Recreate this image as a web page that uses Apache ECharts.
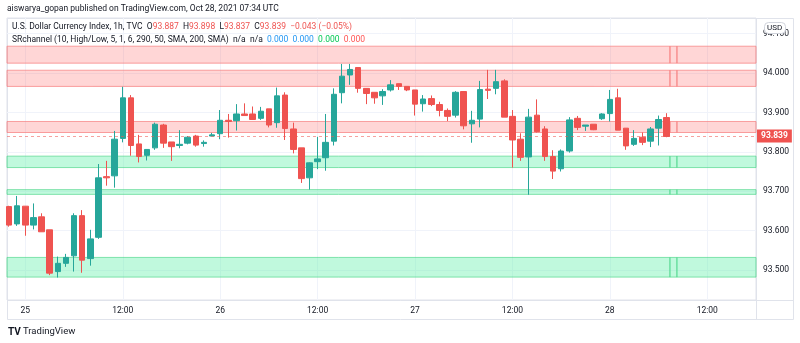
<!DOCTYPE html>
<html>
<head>
<meta charset="utf-8">
<script src="https://cdn.jsdelivr.net/npm/echarts@6/dist/echarts.min.js"></script>
<style>
html,body{margin:0;padding:0;background:#fff;}
#chart{width:800px;height:343px;}
</style>
</head>
<body>
<div id="chart"></div>
<script>
// Hourly candles, index 0 = Oct 24 22:00 UTC
const opens  = [93.661,93.617,93.662,93.614,93.635,93.602,93.496,93.517,93.536,93.638,93.529,93.583,93.737,93.739,93.834,93.937,93.820,93.791,93.810,93.868,93.825,93.816,93.822,93.840,93.821,93.840,93.846,93.880,93.879,93.896,93.896,93.885,93.909,93.874,93.944,93.858,93.810,93.734,93.775,93.785,93.827,93.950,93.995,94.014,93.961,93.951,93.942,93.957,93.973,93.966,93.957,93.922,93.935,93.920,93.905,93.893,93.953,93.871,93.883,93.959,93.961,93.980,93.890,93.832,93.787,93.893,93.858,93.788,93.757,93.802,93.885,93.865,93.870,93.884,93.897,93.937,93.860,93.819,93.837,93.827,93.860,93.887];
const closes = [93.614,93.663,93.614,93.633,93.597,93.492,93.517,93.532,93.638,93.525,93.579,93.734,93.734,93.832,93.937,93.816,93.788,93.806,93.870,93.822,93.813,93.819,93.837,93.817,93.824,93.843,93.880,93.877,93.896,93.892,93.882,93.903,93.868,93.942,93.859,93.806,93.732,93.772,93.782,93.824,93.946,93.992,94.009,93.961,93.948,93.937,93.953,93.970,93.966,93.957,93.921,93.934,93.920,93.905,93.890,93.951,93.866,93.880,93.958,93.956,93.978,93.888,93.830,93.786,93.888,93.851,93.788,93.751,93.802,93.881,93.862,93.868,93.856,93.896,93.933,93.855,93.815,93.834,93.824,93.858,93.882,93.839];
const lows   = [93.610,93.612,93.587,93.603,93.597,93.487,93.481,93.508,93.496,93.493,93.511,93.579,93.714,93.709,93.824,93.790,93.773,93.778,93.805,93.810,93.777,93.809,93.819,93.813,93.813,93.840,93.832,93.836,93.854,93.892,93.882,93.881,93.862,93.861,93.830,93.796,93.721,93.704,93.756,93.752,93.816,93.923,93.970,93.950,93.921,93.922,93.919,93.953,93.957,93.954,93.892,93.902,93.916,93.890,93.878,93.887,93.857,93.823,93.862,93.934,93.946,93.888,93.760,93.777,93.691,93.849,93.777,93.731,93.750,93.798,93.855,93.853,93.855,93.881,93.877,93.855,93.805,93.815,93.817,93.812,93.816,93.837];
const highs  = [93.663,93.688,93.662,93.669,93.644,93.602,93.534,93.541,93.644,93.652,93.602,93.769,93.777,93.853,93.965,93.944,93.843,93.806,93.874,93.871,93.825,93.855,93.840,93.843,93.829,93.848,93.906,93.896,93.921,93.923,93.915,93.914,93.909,93.963,93.951,93.874,93.810,93.773,93.838,93.896,93.961,94.023,94.023,94.014,93.961,93.951,93.959,93.982,93.973,93.966,93.957,93.944,93.943,93.927,93.910,93.954,93.954,93.904,93.980,94.008,94.008,93.984,93.906,93.847,93.909,93.933,93.865,93.804,93.806,93.888,93.891,93.868,93.870,93.898,93.957,93.960,93.860,93.855,93.849,93.863,93.892,93.898];

// Support / resistance channels [low, high]
const resistanceBands = [[94.025,94.068],[93.966,94.007],[93.849,93.877]];
const supportBands    = [[93.760,93.789],[93.692,93.704],[93.482,93.532]];

// Axis ticks
const xTickPositions = [2,14,26,38,50,62,74,86];
const xTickLabels    = ['25','12:00','26','12:00','27','12:00','28','12:00'];
const yTickValues    = [93.5,93.6,93.7,93.8,93.9,94.0,94.1];

const lastClose = closes[closes.length-1];

const FONT = 'Roboto';
const DARK = '#131722';
const RED = '#ef5350';
const GREEN = '#26a69a';

const candleData = opens.map((o,i)=>[i, o, closes[i], lows[i], highs[i]]);

const xMin = -0.26, xMax = 92;
const splitA = 81.4, splitB = 82.26;

function bandPieces(bands, fill, border){
  const out = [];
  bands.forEach(b=>{
    [[xMin,splitA],[splitA,splitB],[splitB,xMax]].forEach(s=>{
      out.push([
        {xAxis:s[0], yAxis:b[0], itemStyle:{color:fill, borderColor:border, borderWidth:1}},
        {xAxis:s[1], yAxis:b[1]}
      ]);
    });
  });
  return out;
}

const chart = echarts.init(document.getElementById('chart'), null, {renderer:'canvas'});
chart.setOption({
  animation:false,
  backgroundColor:'#ffffff',
  textStyle:{fontFamily:FONT},
  grid:{left:7, right:44, top:18, bottom:43, show:true, borderColor:'#e0e3eb', borderWidth:1},
  xAxis:{
    type:'value', min:xMin, max:xMax,
    axisLine:{show:false}, axisTick:{show:false, customValues:xTickPositions},
    axisLabel:{customValues:xTickPositions, margin:6, fontSize:8.5, color:DARK, fontFamily:FONT,
      formatter:(v)=>{const k=xTickPositions.indexOf(Math.round(v)); return k>=0?xTickLabels[k]:'';}},
    splitLine:{show:true, lineStyle:{color:'#f0f3fa', width:1}}
  },
  yAxis:{
    type:'value', position:'right', min:93.4239, max:94.1396, scale:true,
    axisLine:{show:false}, axisTick:{show:false, customValues:yTickValues},
    axisLabel:{customValues:yTickValues, margin:7, fontSize:8.5, color:DARK, fontFamily:FONT,
      formatter:(v)=>v.toFixed(3)},
    splitLine:{show:true, lineStyle:{color:'#f0f3fa', width:1}}
  },
  series:[
    {
      type:'line', data:[], z:1, silent:true,
      markArea:{silent:true, data: bandPieces(resistanceBands,'rgba(255,82,82,0.24)','rgba(247,130,130,0.75)')
        .concat(bandPieces(supportBands,'rgba(105,240,174,0.42)','rgba(80,215,140,0.7)'))}
    },
    {
      type:'candlestick', z:3,
      data:candleData,
      encode:{x:0, y:[1,2,3,4]},
      barWidth:6,
      itemStyle:{color:GREEN, color0:RED, borderColor:GREEN, borderColor0:RED, borderWidth:1},
      markLine:{
        silent:true, symbol:['none','none'],
        lineStyle:{color:'rgba(239,83,80,0.55)', type:[3,3], width:1},
        label:{position:'end', distance:1, formatter:()=>lastClose.toFixed(3), backgroundColor:RED,
          color:'#fff', fontSize:8.5, fontFamily:FONT, padding:[2,4,2,4], fontWeight:'bold'},
        data:[{yAxis:lastClose}]
      }
    }
  ],
  graphic:[
    {type:'line', shape:{x1:7.5,y1:18.5,x2:793.5,y2:18.5}, style:{stroke:'#e0e3eb',lineWidth:1}, z:0},
    {type:'line', shape:{x1:793.5,y1:18.5,x2:793.5,y2:319.5}, style:{stroke:'#e0e3eb',lineWidth:1}, z:0},
    {type:'line', shape:{x1:7.5,y1:319.5,x2:793.5,y2:319.5}, style:{stroke:'#e0e3eb',lineWidth:1}, z:0},
    {type:'line', shape:{x1:7.5,y1:18.5,x2:7.5,y2:319.5}, style:{stroke:'#e0e3eb',lineWidth:1}, z:0},
    {type:'line', shape:{x1:7.5,y1:300.5,x2:793.5,y2:300.5}, style:{stroke:'#e0e3eb',lineWidth:1}, z:0},
    {type:'line', shape:{x1:756.5,y1:18.5,x2:756.5,y2:319.5}, style:{stroke:'#e0e3eb',lineWidth:1}, z:0},
    {type:'text', left:7, top:4, z:10, style:{text:'aiswarya_gopan published on TradingView.com, Oct 28, 2021 07:34 UTC',
      fill:DARK, font:'8.5px '+FONT}},
    {type:'text', left:12, top:22, z:10, style:{
      text:'{d|U.S. Dollar Currency Index, 1h, TVC}  {d|O}{r|93.887}  {d|H}{r|93.898}  {d|L}{r|93.837}  {d|C}{r|93.839}  {r|\u22120.043 (\u22120.05%)}',
      font:'8.5px '+FONT,
      rich:{d:{fill:DARK, font:'8.5px '+FONT}, r:{fill:RED, font:'8.5px '+FONT}}}},
    {type:'text', left:12, top:35, z:10, style:{
      text:'{d|SRchannel (10, High/Low, 5, 1, 6, 290, 50, SMA, 200, SMA)}  {d|n/a}  {d|n/a}  {b|0.000}  {b|0.000}  {g|0.000}  {r|0.000}',
      font:'8.5px '+FONT,
      rich:{d:{fill:DARK, font:'8.5px '+FONT}, b:{fill:'#2196f3', font:'8.5px '+FONT},
            g:{fill:'#00c853', font:'8.5px '+FONT}, r:{fill:'#ff5252', font:'8.5px '+FONT}}}},
    {type:'rect', shape:{x:764.5,y:22.5,width:21,height:11,r:4}, style:{fill:'#fff', stroke:'#d1d4dc', lineWidth:1}, z:20},
    {type:'text', left:767, top:24, z:21, style:{text:'USD', fill:DARK, font:'8px '+FONT}},
    {type:'text', left:8, top:327, z:10, style:{text:'TV', fill:DARK, font:'bold 10px '+FONT}},
    {type:'text', left:23, top:327, z:10, style:{text:'TradingView', fill:DARK, font:'9.5px '+FONT}}
  ]
});
</script>
</body>
</html>
